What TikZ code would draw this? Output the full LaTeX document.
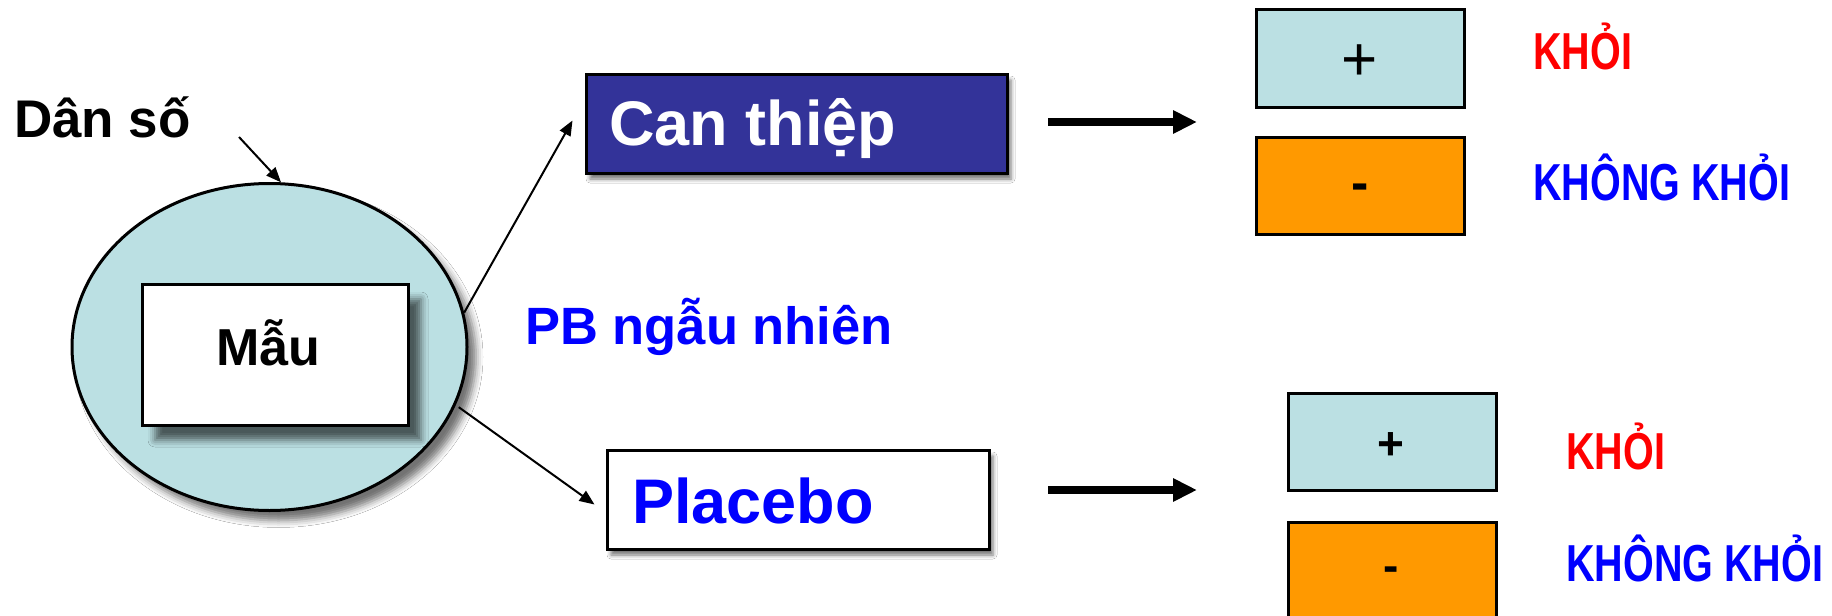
\documentclass[tikz,border=0pt]{standalone}
\usepackage{fontspec}
\setmainfont{Liberation Sans}
\usetikzlibrary{arrows.meta,shadows.blur,calc,shapes.geometric}
\definecolor{lightcyan}{HTML}{BBE0E3}
\definecolor{darkblue}{HTML}{333399}
\definecolor{orng}{HTML}{FF9900}
\definecolor{pureblue}{HTML}{0000FF}
\definecolor{purered}{HTML}{FF0000}
\tikzset{
  thinarrow/.style={line width=2pt,-{Triangle[length=15pt,width=12pt]}},
  bigarrow/.style={line width=8pt,-{Triangle[length=24pt,width=22pt]}},
  boxshape/.style={draw=black,line width=3pt,inner sep=0pt,rectangle},
  resbox/.style={boxshape,minimum width=208pt},
  bigtxt/.style={inner sep=0pt,anchor=base west,font=\fontsize{63}{70}\selectfont\bfseries},
  midtxt/.style={inner sep=0pt,font=\fontsize{52}{60}\selectfont\bfseries},
  outtxt/.style={inner sep=0pt,anchor=base west,font=\fontsize{52}{60}\selectfont\bfseries},
  sym/.style={inner sep=0pt,anchor=center}
}
\newcommand{\narrowtxt}[1]{\scalebox{0.76}[1]{#1}}
\begin{document}
\begin{tikzpicture}[x=1pt,y=-1pt]
\fill[white] (0,0) rectangle (1832,616);
\useasboundingbox (0,0) rectangle (1832,616);

% population ellipse and sample box
\node[ellipse,draw=black,line width=3pt,fill=lightcyan,minimum width=395pt,minimum height=327pt,inner sep=0pt,
  blur shadow={shadow xshift=9pt,shadow yshift=-10pt,shadow blur radius=7pt,shadow opacity=55}] (pop) at (269.5,347) {};
\node[boxshape,fill=white,minimum width=266pt,minimum height=141pt,
  blur shadow={shadow xshift=13pt,shadow yshift=-15pt,shadow blur radius=7pt,shadow opacity=60}] (mau) at (275,354.5) {};
\node[midtxt,anchor=base] (mautxt) at (268,365) {Mẫu};

\node[midtxt,anchor=base west,font=\fontsize{53}{60}\selectfont\bfseries] (dan) at (14,137) {Dân số};
\coordinate (dstart) at (239,137);
\draw[thinarrow] (dstart) -- (pop.86);

% branch boxes
\node[boxshape,fill=darkblue,minimum width=421pt,minimum height=99pt,
  blur shadow={shadow xshift=4pt,shadow yshift=-6pt,shadow blur radius=4pt,shadow opacity=55}] (can) at (796.5,123.5) {};
\node[bigtxt,text=white] (cantxt) at (609,145) {Can thiệp};

\node[boxshape,fill=white,minimum width=382pt,minimum height=99pt,
  blur shadow={shadow xshift=4pt,shadow yshift=-6pt,shadow blur radius=4pt,shadow opacity=55}] (plac) at (798,499.5) {};
\node[bigtxt,text=pureblue] (plactxt) at (632,523) {Placebo};

\node[midtxt,anchor=base west,text=pureblue,font=\fontsize{52.5}{60}\selectfont\bfseries] (pb) at (525,344) {PB ngẫu nhiên};

\draw[thinarrow] (pop.10) -- ([xshift=-12pt,yshift=3pt]can.west);
\draw[thinarrow] ([xshift=4pt]pop.-18) -- ([xshift=-11pt,yshift=-5pt]plac.west);

% outcome arrows
\coordinate (a1s) at (1048,122);
\coordinate (a1e) at (1197,122);
\coordinate (a2s) at (1048,490);
\coordinate (a2e) at (1197,490);
\draw[bigarrow] (a1s) -- (a1e);
\draw[bigarrow] (a2s) -- (a2e);

% top outcomes
\node[resbox,fill=lightcyan,minimum height=98pt] (tp) at (1360,58) {};
\node[sym,font=\fontsize{62}{62}\selectfont] (tps) at (1360,63) {+};
\node[resbox,fill=orng,minimum height=97pt] (tm) at (1360,185.5) {};
\node[sym,font=\fontsize{52}{52}\selectfont\bfseries] (tms) at (1360,192) {-};
\node[outtxt,text=purered] (tk) at (1533,69) {\narrowtxt{KHỎI}};
\node[outtxt,text=pureblue] (tkk) at (1533,200) {\narrowtxt{KHÔNG KHỎI}};

% bottom outcomes
\node[resbox,fill=lightcyan,minimum height=97pt] (bp) at (1392,441.5) {};
\node[sym,font=\fontsize{46}{46}\selectfont\bfseries] (bps) at (1391,446) {+};
\node[resbox,fill=orng,minimum height=97pt] (bm) at (1392,570.5) {};
\node[sym,font=\fontsize{46}{46}\selectfont\bfseries] (bms) at (1391,574) {-};
\node[outtxt,text=purered] (bk) at (1566,469) {\narrowtxt{KHỎI}};
\node[outtxt,text=pureblue] (bkk) at (1566,581) {\narrowtxt{KHÔNG KHỎI}};
\end{tikzpicture}
\end{document}
